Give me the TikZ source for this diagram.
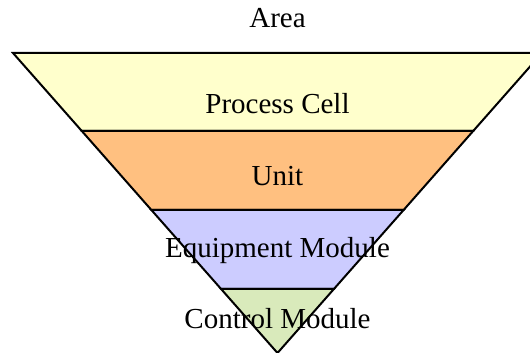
\documentclass[tikz,border=0pt]{standalone}
\usepackage{fontspec}
\setmainfont{Liberation Serif}
\definecolor{bandA}{RGB}{255,255,204}
\definecolor{bandB}{RGB}{255,192,128}
\definecolor{bandC}{RGB}{204,204,255}
\definecolor{bandD}{RGB}{217,234,187}
\begin{document}
\begin{tikzpicture}[x=1pt,y=1pt,
  band/.style={draw=black,line width=2pt,line join=miter},
  lbl/.style={anchor=base,inner sep=0pt,font=\fontsize{29}{34}\selectfont}]
\useasboundingbox (0,0) rectangle (530,353);
\begin{scope}
\clip (0,0) rectangle (530,353);
\draw[band,fill=bandA] (13,300) -- (542,300) -- (473.2,222) -- (81.8,222) -- cycle;
\draw[band,fill=bandB] (81.8,222) -- (473.2,222) -- (403.6,143) -- (151.4,143) -- cycle;
\draw[band,fill=bandC] (151.4,143) -- (403.6,143) -- (333.9,64) -- (221.1,64) -- cycle;
\draw[band,fill=bandD] (221.1,64) -- (333.9,64) -- (277.5,0) -- cycle;
\end{scope}
\node[lbl] (area) at (277.5,325) {Area};
\node[lbl] (cell) at (277.5,239) {Process Cell};
\node[lbl] (unit) at (277.5,167) {Unit};
\node[lbl] (equip) at (277.5,95) {Equipment Module};
\node[lbl] (ctrl) at (277.5,24) {Control Module};
\end{tikzpicture}
\end{document}
